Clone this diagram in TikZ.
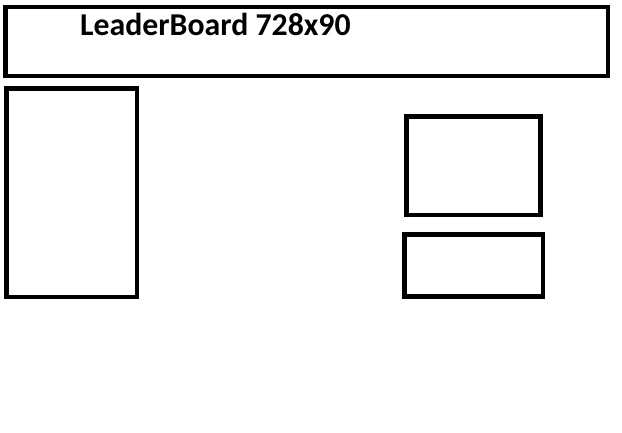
\documentclass[tikz,border=0pt]{standalone}
\usepackage{fontspec}
\setmainfont{Carlito}
\begin{document}
\begin{tikzpicture}[x=1pt,y=-1pt,
  adbox/.style={draw=black,line width=4.8pt,fill=none},
  title/.style={font=\fontsize{31.8}{34}\selectfont\bfseries,inner sep=0pt,anchor=base west}]
\useasboundingbox[fill=white] (0,0) rectangle (622,432);
\draw[adbox] (5.5,7) rectangle (608,76);
\node[title] (lb) at (80,35) {LeaderBoard 728x90};
\draw[adbox] (6.5,88.5) rectangle (137,297);
\draw[adbox] (406.5,116.5) rectangle (540.5,215);
\draw[adbox] (404.5,234.5) rectangle (543,296.5);
\end{tikzpicture}
\end{document}
